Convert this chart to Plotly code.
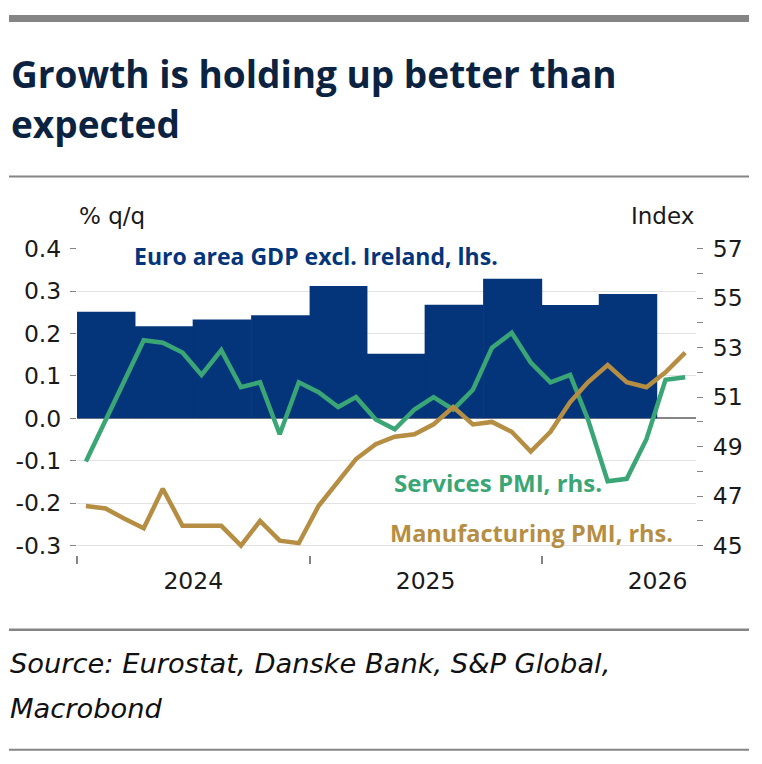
import pandas as pd
import plotly.graph_objects as go

# GDP q/q (lhs), quarterly bars
quarters = ["2024Q1", "2024Q2", "2024Q3", "2024Q4", "2025Q1",
            "2025Q2", "2025Q3", "2025Q4", "2026Q1", "2026Q2"]
gdp = [0.251, 0.217, 0.233, 0.243, 0.312, 0.152, 0.268, 0.329, 0.267, 0.293]

# PMIs (rhs), monthly from Jan 2024
months = [f"{y}-{m:02d}" for y in (2024, 2025, 2026) for m in range(1, 13)][:32]
services = [48.4, 50.1, 51.6, 53.3, 53.2, 52.8, 51.9, 52.9, 51.4, 51.6, 49.5, 51.6,
            51.2, 50.6, 51.0, 50.1, 49.7, 50.5, 51.0, 50.5, 51.3, 53.0, 53.6, 52.4,
            51.6, 51.9, 50.1, 47.6, 47.7, 49.3, 51.7, 51.8]
manufacturing = [46.6, 46.5, 46.1, 45.7, 47.3, 45.8, 45.8, 45.8, 45.0, 46.0, 45.2, 45.1,
                 46.6, 47.6, 48.5, 49.1, 49.4, 49.5, 49.9, 50.6, 49.9, 50.0, 49.6, 48.8,
                 49.6, 50.8, 51.6, 52.3, 51.6, 51.4, 52.0, 52.8]

left_ticks = [-0.3, -0.2, -0.1, 0.0, 0.1, 0.2, 0.3, 0.4]
right_ticks = list(range(45, 58))

NAVY = "#04357a"
GREEN = "#3aa676"
BROWN = "#b68e43"
GREY = "#858585"
W, H = 762, 764

q = pd.PeriodIndex(quarters, freq="Q")
q_start = q.start_time
# one extra day so neighbouring bars touch without a hairline gap
q_width = [((e - s).days + 1) * 86400000 for s, e in zip(q.start_time, (q + 1).start_time)]
m_mid = pd.to_datetime(months) + pd.Timedelta(days=14)

fig = go.Figure()
fig.add_trace(go.Bar(x=q_start, y=gdp, width=q_width, offset=0,
                     marker=dict(color=NAVY, line=dict(width=0)), name="GDP"))
fig.add_trace(go.Scatter(x=m_mid, y=services, yaxis="y2", mode="lines",
                         line=dict(color=GREEN, width=4.5), name="Services PMI"))
fig.add_trace(go.Scatter(x=m_mid, y=manufacturing, yaxis="y2", mode="lines",
                         line=dict(color=BROWN, width=4.5), name="Manufacturing PMI"))

tickfont = dict(family="DejaVu Sans", size=23.5, color="#1a1a1a")


# page offset seen in the screenshot: x shifted by 8, y squeezed a bit
def px_x(p):
    return (p - 8) / W


def px_y(p):
    return 1 - ((p - 20.4) / 0.975) / H


fig.update_layout(
    width=W, height=H, margin=dict(l=0, r=0, t=0, b=0),
    paper_bgcolor="white", plot_bgcolor="white", showlegend=False,
    xaxis=dict(type="date", domain=[px_x(77), px_x(696)],
               range=["2024-01-01", "2026-09-01"],
               tick0="2024-01-01", dtick="M12", tickformat="%Y", ticklabelmode="period",
               ticks="outside", ticklen=8, tickwidth=2, tickcolor=GREY,
               showgrid=False, showline=False, zeroline=False, tickfont=tickfont,
               ticklabelstandoff=-3),
    yaxis=dict(domain=[px_y(553), px_y(247)], range=[-0.3212, 0.4],
               tickvals=left_ticks, ticktext=[f"{v:.1f}".replace("-0.0", "0.0") for v in left_ticks],
               ticks="outside", ticklen=6, tickwidth=1, tickcolor=GREY,
               showgrid=True, gridcolor="#e2e2e2", gridwidth=1,
               zeroline=True, zerolinecolor=GREY, zerolinewidth=1.5,
               showline=False, tickfont=tickfont, ticklabelstandoff=4),
    yaxis2=dict(overlaying="y", side="right", range=[44.636, 57],
                tickvals=right_ticks, ticktext=[str(v) if v % 2 else "" for v in right_ticks],
                ticks="outside", ticklen=6, tickwidth=1, tickcolor=GREY,
                showgrid=False, zeroline=False, showline=False,
                tickfont=tickfont, ticklabelstandoff=5),
)

ann = []
title_font = dict(family="Open Sans", size=37, color="#0b2341", weight="bold")
ann.append(dict(text="Growth is holding up better than", x=px_x(9), y=px_y(71.5),
                xanchor="left", yanchor="middle", font=title_font))
ann.append(dict(text="expected", x=px_x(9), y=px_y(121.5),
                xanchor="left", yanchor="middle", font=title_font))
unit_font = dict(family="DejaVu Sans", size=23, color="#1a1a1a")
ann.append(dict(text="% q/q", x=px_x(77), y=px_y(214), xanchor="left", yanchor="middle", font=unit_font))
ann.append(dict(text="Index", x=px_x(696), y=px_y(214), xanchor="right", yanchor="middle", font=unit_font))
lab = dict(family="Open Sans", weight="bold")
ann.append(dict(text="Euro area GDP excl. Ireland, lhs.", x=px_x(132), y=px_y(254),
                xanchor="left", yanchor="middle", font=dict(lab, size=23, color=NAVY)))
ann.append(dict(text="Services PMI, rhs.", x=px_x(392), y=px_y(481),
                xanchor="left", yanchor="middle", font=dict(lab, size=24, color=GREEN)))
ann.append(dict(text="Manufacturing PMI, rhs.", x=px_x(388), y=px_y(531),
                xanchor="left", yanchor="middle", font=dict(lab, size=23.5, color=BROWN)))
src_font = dict(family="DejaVu Sans", size=27.3, color="#111111", style="italic")
ann.append(dict(text="Source: Eurostat, Danske Bank, S&P Global,", x=px_x(8), y=px_y(662),
                xanchor="left", yanchor="middle", font=src_font))
ann.append(dict(text="Macrobond", x=px_x(8), y=px_y(707),
                xanchor="left", yanchor="middle", font=src_font))
for a in ann:
    a.update(xref="paper", yref="paper", showarrow=False)
fig.update_layout(annotations=ann)

# separator rules
for y, w in [(17, 7), (175, 2), (628, 2.5), (748, 2)]:
    fig.add_shape(type="line", xref="paper", yref="paper",
                  x0=px_x(9), x1=px_x(749), y0=px_y(y), y1=px_y(y),
                  line=dict(color=GREY, width=w))

fig.write_html("out.html")
